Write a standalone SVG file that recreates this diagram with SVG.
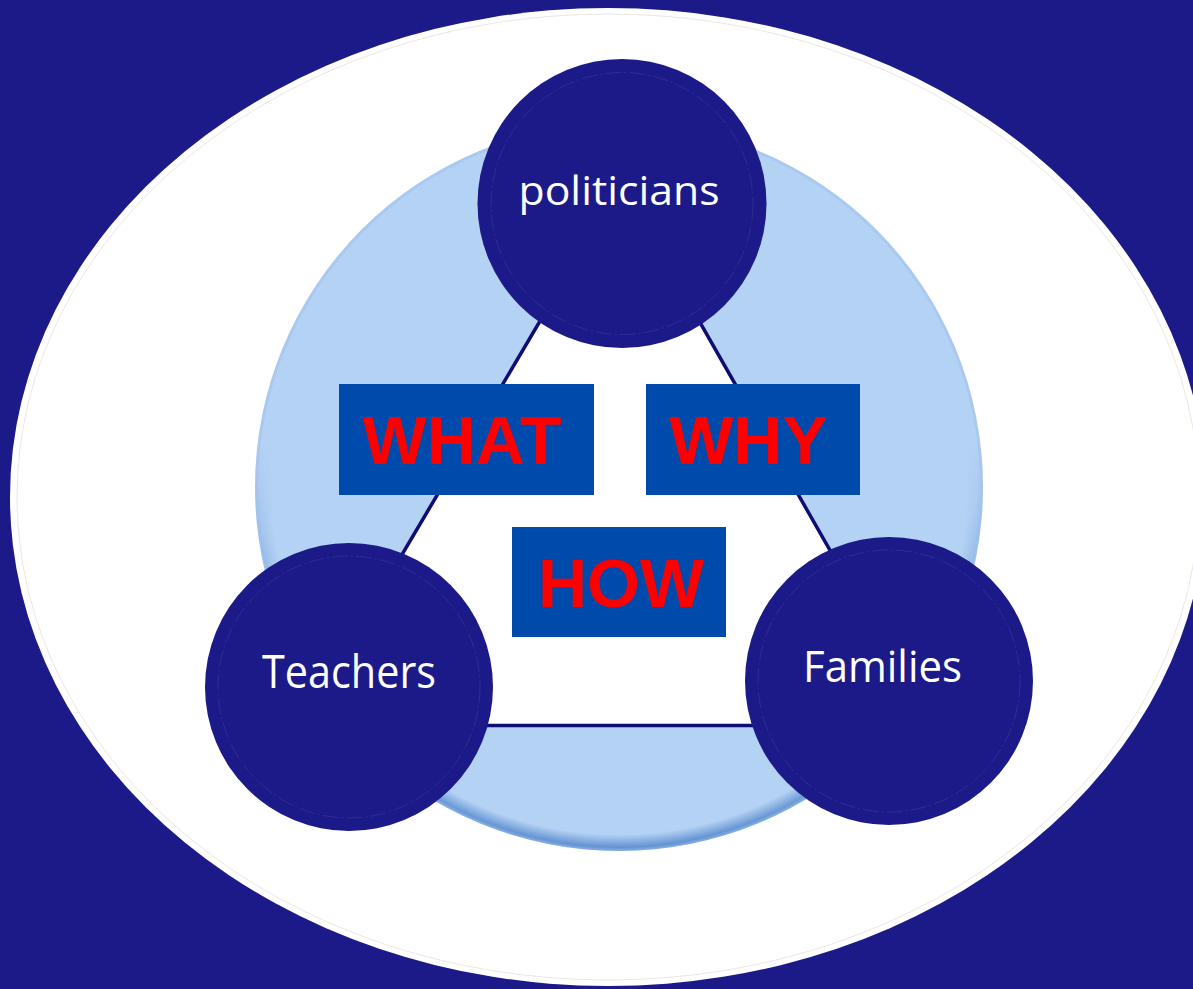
<svg xmlns="http://www.w3.org/2000/svg" width="1193" height="989" viewBox="0 0 1193 989">
  <style>
    .node { fill: #1c1a88; }
    .ring { fill: none; stroke: #3a3a9c; stroke-width: 1; stroke-dasharray: 16 3 2 3; opacity: 0.6; }
    .lbl { font-family: "Open Sans", "Liberation Sans", sans-serif; fill: #ffffff; text-anchor: middle; }
    .box { fill: #004aab; }
    .kw { font-family: "Liberation Sans", Arial, sans-serif; font-weight: bold; font-size: 68px; fill: #ff0000; text-anchor: middle; }
    .edge { stroke: #0f0c73; stroke-width: 3.5; fill: #ffffff; stroke-linejoin: round; }
  </style>
  <defs>
    <radialGradient id="edgeShade" cx="0.5" cy="0.5" r="0.5">
      <stop offset="0.955" stop-color="#4a80c8" stop-opacity="0"/>
      <stop offset="0.99" stop-color="#4a80c8" stop-opacity="0.85"/>
      <stop offset="1" stop-color="#6b9bd8" stop-opacity="0.6"/>
    </radialGradient>
    <linearGradient id="maskGrad" x1="0" y1="0" x2="0" y2="1">
      <stop offset="0.45" stop-color="#000"/>
      <stop offset="0.9" stop-color="#fff"/>
    </linearGradient>
    <mask id="bottomMask">
      <rect x="0" y="0" width="1193" height="989" fill="url(#maskGrad)"/>
    </mask>
  </defs>

  <rect id="background" x="0" y="0" width="1193" height="989" fill="#1c1a88"/>

  <g id="outer-ellipse">
    <ellipse cx="608" cy="497" rx="598" ry="489" fill="#ffffff"/>
    <ellipse cx="608" cy="497" rx="591" ry="483" fill="none" stroke="#ebe8e0" stroke-width="1"/>
  </g>

  <g id="inner-circle">
    <circle cx="619" cy="487" r="364" fill="#aac9f0"/>
    <circle cx="619" cy="487" r="361" fill="#b4d2f4"/>
    <circle cx="619" cy="487" r="364" fill="url(#edgeShade)" mask="url(#bottomMask)"/>
  </g>

  <g id="connectors">
    <polygon class="edge" points="621,184 301,725.5 930,725.5"/>
  </g>

  <g id="node-politicians">
    <circle class="node" cx="622" cy="203.5" r="144.5"/>
    <circle class="ring" cx="622" cy="203.5" r="131"/>
    <text class="lbl" x="619" y="205" font-size="40" textLength="201" lengthAdjust="spacingAndGlyphs">politicians</text>
  </g>

  <g id="node-teachers">
    <circle class="node" cx="349" cy="687" r="144"/>
    <circle class="ring" cx="349" cy="687" r="131"/>
    <text class="lbl" x="349" y="688" font-size="45" textLength="174" lengthAdjust="spacingAndGlyphs">Teachers</text>
  </g>

  <g id="node-families">
    <circle class="node" cx="889" cy="681" r="144"/>
    <circle class="ring" cx="889" cy="681" r="131"/>
    <text class="lbl" x="882.5" y="682" font-size="43" textLength="159" lengthAdjust="spacingAndGlyphs">Families</text>
  </g>

  <g id="node-what">
    <rect class="box" x="339" y="384" width="255" height="111"/>
    <text class="kw" x="462" y="464">WHAT</text>
  </g>

  <g id="node-why">
    <rect class="box" x="646" y="384" width="214" height="111"/>
    <text class="kw" x="748.5" y="464">WHY</text>
  </g>

  <g id="node-how">
    <rect class="box" x="512" y="527" width="214" height="110"/>
    <text class="kw" x="621" y="607">HOW</text>
  </g>
</svg>
